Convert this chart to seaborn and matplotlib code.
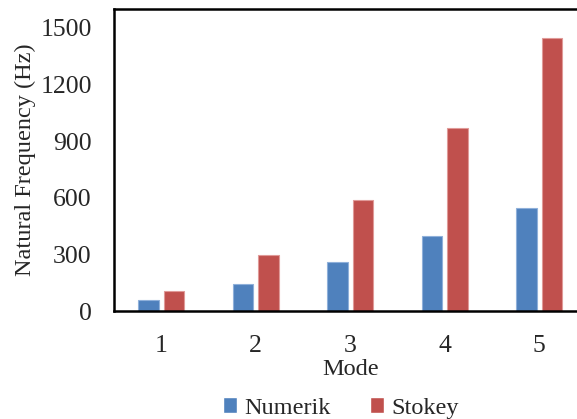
import matplotlib
matplotlib.use("Agg")
import matplotlib.pyplot as plt
import seaborn as sns
import pandas as pd

modes = ["1", "2", "3", "4", "5"]
numerik = [58, 143, 259, 396, 548]
stokey = [107, 296, 586, 972, 1449]
series_names = ["Numerik", "Stokey"]
y_ticks = [0, 300, 600, 900, 1200, 1500]

df = pd.DataFrame({
    "Mode": modes * 2,
    "Frequency": numerik + stokey,
    "Series": [series_names[0]] * len(modes) + [series_names[1]] * len(modes),
})

sns.set_style("white")
plt.rcParams["font.family"] = ["Liberation Serif", "DejaVu Serif"]

W, H = 577, 419
fig = plt.figure(figsize=(W / 100, H / 100), dpi=100)
ax = fig.add_axes([114 / W, (H - 311) / H, 472.5 / W, 302 / H])

palette = {"Numerik": "#4F81BD", "Stokey": "#C0504D"}
sns.barplot(data=df, x="Mode", y="Frequency", hue="Series", palette=palette,
            width=0.54, gap=0.2, ax=ax, saturation=1, legend=True)

edge = {"Numerik": "#8FB0DA", "Stokey": "#E09A98"}
for cont, name in zip(ax.containers, series_names):
    for p in cont:
        p.set_edgecolor(edge[name])
        p.set_linewidth(0.8)

ax.set_xlim(-0.5, 4.5)
ax.set_ylim(0, 1600)
ax.set_yticks(y_ticks)
ax.tick_params(axis="both", length=0, labelsize=18.5)
ax.tick_params(axis="y", pad=16)
ax.tick_params(axis="x", pad=17)
ax.set_xlabel("Mode", fontsize=17.5, labelpad=2)
ax.set_ylabel("Natural Frequency (Hz)", fontsize=17.5, labelpad=3)
for s in ax.spines.values():
    s.set_color("black")
    s.set_linewidth(1.8)

handles, labels = ax.get_legend_handles_labels()
ax.get_legend().remove()
fig.legend(handles, labels, loc="center", ncol=2, frameon=False,
           bbox_to_anchor=(341 / W, 1 - 408 / H), fontsize=17.5,
           handlelength=0.6, handleheight=0.6, handletextpad=0.3,
           columnspacing=1.6)

fig.savefig("out.png", dpi=100)
